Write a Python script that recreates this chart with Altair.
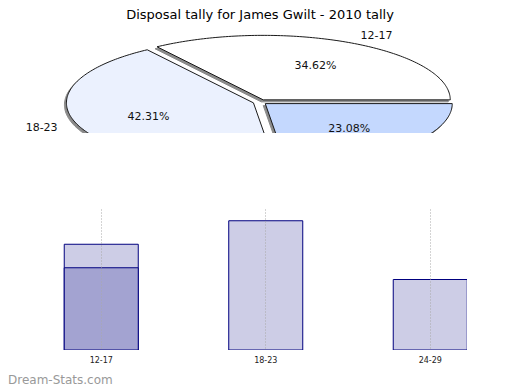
import numpy as np
import pandas as pd
import altair as alt

# ---- data ----
categories = ["12-17", "18-23", "24-29"]
tally = [9, 11, 6]
highlight_categories = ["12-17"]
highlight_values = [7]
slice_colors = ["#ffffff", "#ebf1fe", "#c4d8fe"]
title_text = "Disposal tally for James Gwilt - 2010 tally"
watermark = "Dream-Stats.com"

# ---- pie geometry (unit circle; x/y scales squash it into an ellipse) ----
EXPLODE = 0.0375
total = sum(tally)
poly_rows, label_rows = [], []
start = 0.0
for c, val in zip(categories, tally):
    span = 2 * np.pi * val / total
    a0, a1 = start, start + span
    mid = (a0 + a1) / 2
    ox, oy = EXPLODE * np.cos(mid), EXPLODE * np.sin(mid)
    ts = np.linspace(a0, a1, int(np.degrees(span)) + 2)
    pts = [(ox, oy)] + [(ox + np.cos(t), oy + np.sin(t)) for t in ts] + [(ox, oy)]
    for i, (u, v) in enumerate(pts):
        poly_rows.append({"cat": c, "i": i, "u": u, "v": v})
    label_rows.append({
        "cat": c,
        "pct": f"{100 * val / total:.2f}%",
        "pu": (0.6 + EXPLODE) * np.cos(mid), "pv": (0.6 + EXPLODE) * np.sin(mid),
        "lu": (1.12 + EXPLODE) * np.cos(mid), "lv": (1.12 + EXPLODE) * np.sin(mid),
        "side": "right" if np.cos(mid) >= 0 else "left",
    })
    start = a1

poly = pd.DataFrame(poly_rows)
labels = pd.DataFrame(label_rows)

PIE_W, PIE_H = 504, 109
xs = alt.Scale(domain=[-1.3476, 1.3476], nice=False, zero=False)
ys = alt.Scale(domain=[-0.4806, -0.4806 + PIE_H / 64.5], nice=False, zero=False)

base = alt.Chart(poly)
shadow = base.transform_calculate(
    su="datum.u - 2/187", sv="datum.v - 2/64.5"
).mark_line(fill="#8a8a8a", stroke="#8a8a8a", strokeWidth=1, clip=True).encode(
    x=alt.X("su:Q", scale=xs, axis=None),
    y=alt.Y("sv:Q", scale=ys, axis=None),
    detail="cat:N",
    order="i:Q",
)
slices = [
    base.transform_filter(alt.datum.cat == c).mark_line(
        fill=col, stroke="#1a1a1a", strokeWidth=1, clip=True
    ).encode(
        x=alt.X("u:Q", scale=xs, axis=None),
        y=alt.Y("v:Q", scale=ys, axis=None),
        order="i:Q",
    )
    for c, col in zip(categories, slice_colors)
]
lab = alt.Chart(labels)
pct_text = lab.mark_text(fontSize=11, font="DejaVu Sans", color="#111", clip=True).encode(
    x=alt.X("pu:Q", scale=xs, axis=None), y=alt.Y("pv:Q", scale=ys, axis=None), text="pct:N"
)
cat_r = lab.transform_filter(alt.datum.side == "right").mark_text(
    fontSize=11, font="DejaVu Sans", color="#111", align="left", clip=True
).encode(x=alt.X("lu:Q", scale=xs, axis=None), y=alt.Y("lv:Q", scale=ys, axis=None), text="cat:N")
cat_l = lab.transform_filter(alt.datum.side == "left").mark_text(
    fontSize=11, font="DejaVu Sans", color="#111", align="right", clip=True
).encode(x=alt.X("lu:Q", scale=xs, axis=None), y=alt.Y("lv:Q", scale=ys, axis=None), text="cat:N")

pie = alt.layer(shadow, *slices, pct_text, cat_r, cat_l).properties(width=PIE_W, height=PIE_H)

# ---- bar chart ----
bars_df = pd.DataFrame({"cat": categories, "val": tally})
hl_df = pd.DataFrame({"cat": highlight_categories, "val": highlight_values})
bx = alt.X(
    "cat:N",
    sort=categories,
    scale=alt.Scale(domain=categories, range=[11, 504.5], paddingInner=0.55, paddingOuter=0.275),
    axis=alt.Axis(
        title=None, domain=False, ticks=False, labelAngle=0, labelFontSize=8,
        labelFont="DejaVu Sans", labelColor="#222", labelPadding=6,
        grid=True, gridColor="#a8a8a8", gridDash=[1, 2], gridWidth=1,
        bandPosition=0.5, zindex=1,
    ),
)
by = alt.Y("val:Q", scale=alt.Scale(domain=[0, 12], nice=False), axis=None)
main_bars = alt.Chart(bars_df).mark_bar(
    fill="#cdcde6", stroke="#00007f", strokeWidth=1, clip=True
).encode(x=bx, y=by)
hl_bars = alt.Chart(hl_df).mark_bar(
    fill="#a3a3d1", stroke="#00007f", strokeWidth=1, clip=True
).encode(x=bx, y=by)
wm = alt.Chart(pd.DataFrame({"t": [watermark]})).mark_text(
    fontSize=12, font="DejaVu Sans", color="#999999", align="left", baseline="middle"
).encode(x=alt.value(0), y=alt.value(171), text="t:N")

bar_chart = alt.layer(main_bars, hl_bars, wm).properties(width=459, height=141)

chart = alt.vconcat(pie, bar_chart, spacing=76).properties(
    title=alt.TitleParams(title_text, fontSize=13, font="DejaVu Sans", fontWeight="normal",
                          color="#000", anchor="middle", offset=2),
    padding={"top": 1, "left": 0, "right": 0, "bottom": 0},
    background="white",
).configure_view(strokeWidth=0, stroke=None)

chart.save("out.html", embed_options={"renderer": "svg", "actions": False})
